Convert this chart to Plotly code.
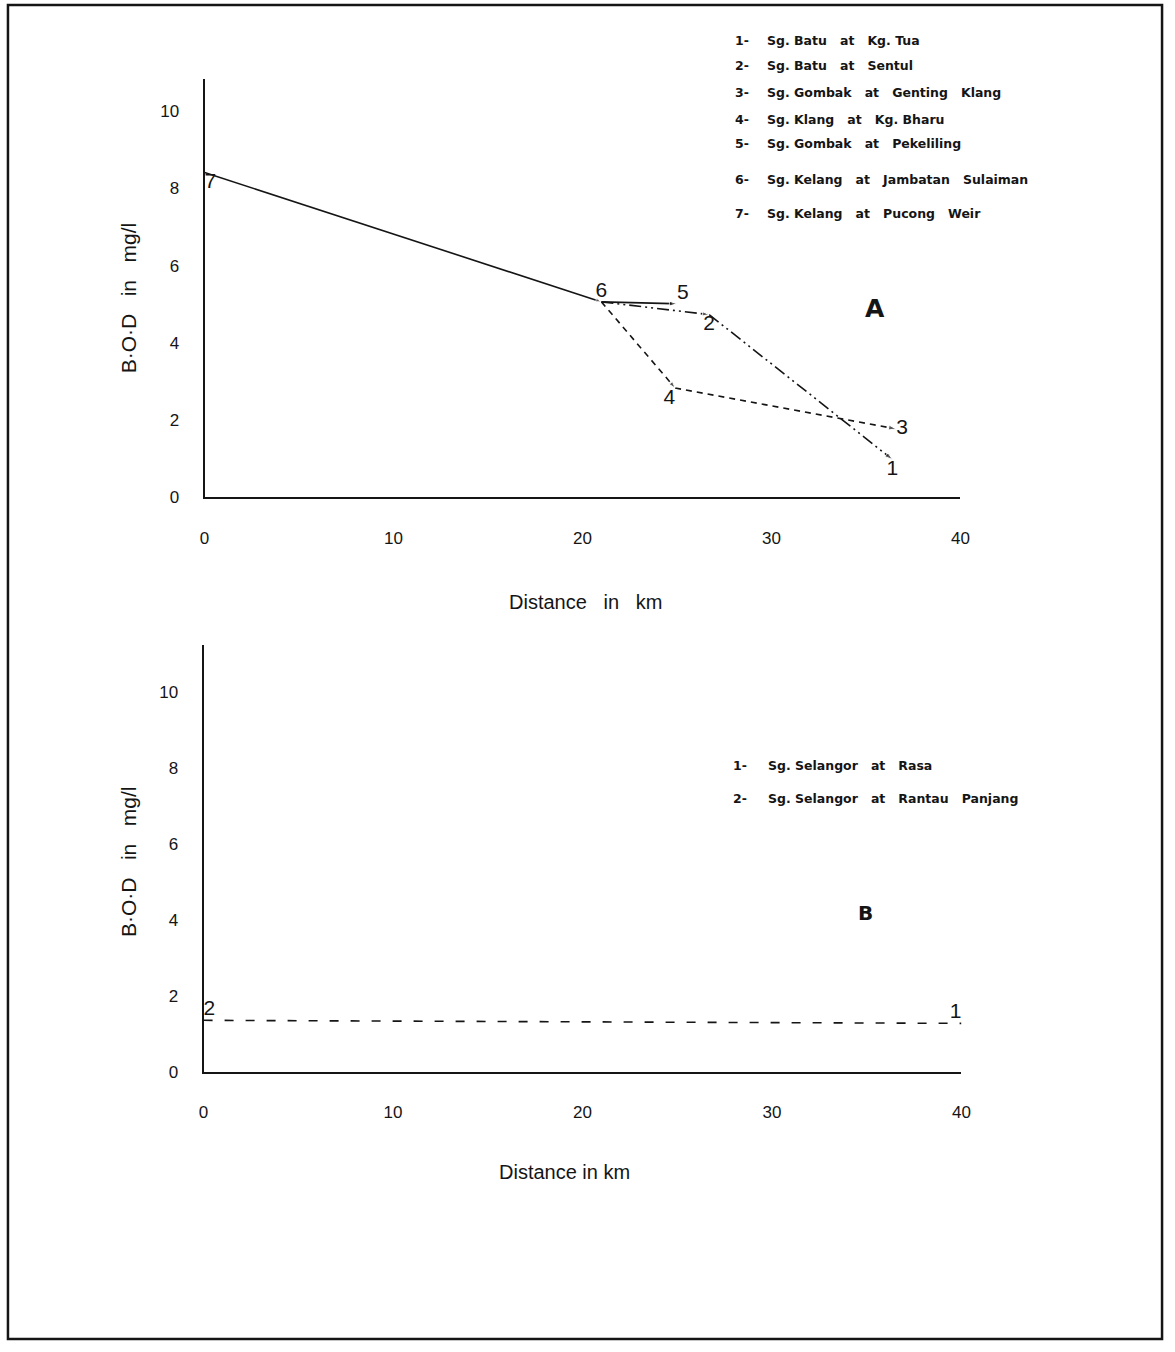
import plotly.graph_objects as go

W, H = 1175, 1352

# ---------------- Data: panel A ----------------
station_ids_a = ["1", "2", "3", "4", "5", "6", "7"]
station_names_a = [
    "Sg. Batu   at   Kg. Tua",
    "Sg. Batu   at   Sentul",
    "Sg. Gombak   at   Genting   Klang",
    "Sg. Klang   at   Kg. Bharu",
    "Sg. Gombak   at   Pekeliling",
    "Sg. Kelang   at   Jambatan   Sulaiman",
    "Sg. Kelang   at   Pucong   Weir",
]
distance_a = [36.4, 26.7, 36.6, 24.9, 25.0, 21.0, 0.0]
bod_a = [0.98, 4.73, 1.77, 2.83, 5.01, 5.06, 8.41]
route_solid = ["7", "6", "5"]
route_dashdot = ["6", "2", "1"]
route_dash = ["6", "4", "3"]

# ---------------- Data: panel B ----------------
station_ids_b = ["1", "2"]
station_names_b = [
    "Sg. Selangor   at   Rasa",
    "Sg. Selangor   at   Rantau   Panjang",
]
distance_b = [40.0, 0.0]
bod_b = [1.28, 1.36]
route_b = ["2", "1"]

x_ticks = [0, 10, 20, 30, 40]
y_ticks = [0, 2, 4, 6, 8, 10]

# ---------------- helpers ----------------
def px(x):
    return x / W

def py(y):
    return 1 - y / H

INK = "#151515"
FONT = "Liberation Sans"
NB = "\u00a0"


def route_xy(route, ids, xs, ys):
    idx = [ids.index(r) for r in route]
    return [xs[i] for i in idx], [ys[i] for i in idx]


fig = go.Figure()

# Panel A lines
line_specs = [
    (route_solid, "solid", ["square", "arrow", "arrow"], [7, 6, 8]),
    (route_dashdot, "12px,4px,2px,4px,2px,4px", ["circle", "arrow", "arrow"], [0, 7, 8]),
    (route_dash, "6px,5px", ["circle", "arrow", "arrow"], [0, 7, 8]),
]
for route, dash, symbols, sizes in line_specs:
    xs, ys = route_xy(route, station_ids_a, distance_a, bod_a)
    fig.add_trace(go.Scatter(
        x=xs, y=ys, mode="lines+markers", xaxis="x", yaxis="y",
        line=dict(color=INK, width=1.6, dash=dash),
        marker=dict(symbol=symbols, size=sizes, color=INK, angleref="previous"),
        hoverinfo="skip", showlegend=False,
    ))

# Panel A point labels
text_pos_a = ["bottom center", "bottom center", "middle right", "bottom left",
              "top right", "top center", "bottom right"]
fig.add_trace(go.Scatter(
    x=distance_a, y=bod_a, text=station_ids_a, mode="text",
    textposition=text_pos_a, xaxis="x", yaxis="y",
    textfont=dict(family=FONT, size=21, color=INK),
    cliponaxis=False, hoverinfo="skip", showlegend=False,
))

# Panel B line
xs_b, ys_b = route_xy(route_b, station_ids_b, distance_b, bod_b)
fig.add_trace(go.Scatter(
    x=xs_b, y=ys_b, mode="lines", xaxis="x2", yaxis="y2",
    line=dict(color=INK, width=1.6, dash="9px,12px"),
    hoverinfo="skip", showlegend=False,
))
fig.add_trace(go.Scatter(
    x=distance_b, y=bod_b, text=station_ids_b, mode="text",
    textposition=["top left", "top right"], xaxis="x2", yaxis="y2",
    textfont=dict(family=FONT, size=21, color=INK),
    cliponaxis=False, hoverinfo="skip", showlegend=False,
))

axis_common = dict(
    showline=True, linewidth=2, linecolor=INK, showgrid=False, zeroline=False,
    ticks="", tickfont=dict(family=FONT, size=17, color=INK), fixedrange=True,
)

fig.update_layout(
    width=W, height=H,
    margin=dict(l=0, r=0, t=0, b=0),
    paper_bgcolor="white", plot_bgcolor="white",
    xaxis=dict(domain=[px(202), px(967)], range=[0, 40], anchor="y",
               tickvals=x_ticks, ticklabelstandoff=24, **axis_common),
    yaxis=dict(domain=[py(501), py(80)], range=[0, 10.82], anchor="x",
               tickvals=y_ticks, ticklabelstandoff=20, **axis_common),
    xaxis2=dict(domain=[px(201), px(968)], range=[0, 40], anchor="y2",
                tickvals=x_ticks, ticklabelstandoff=24, **axis_common),
    yaxis2=dict(domain=[py(1080), py(650)], range=[0, 11.23], anchor="x2",
                tickvals=y_ticks, ticklabelstandoff=20, **axis_common),
)


def note(x, y, text, font, xanchor="center", angle=0):
    return dict(x=px(x), y=py(y), xref="paper", yref="paper", text=text,
                xanchor=xanchor, yanchor="middle", textangle=angle,
                showarrow=False, font=font)


ann = []
title_font = dict(family=FONT, size=21, color=INK)
# Axis titles
ytitle = "B\u00b7O\u00b7D" + NB * 3 + "in" + NB * 3 + "mg/l"
ann.append(note(125, 300, ytitle, title_font, angle=-90))
ann.append(note(125, 868, ytitle, title_font, angle=-90))
ann.append(note(588, 606, "Distance" + NB * 3 + "in" + NB * 3 + "km", dict(family=FONT, size=20, color=INK)))
ann.append(note(566, 1181, "Distance in km", dict(family=FONT, size=20, color=INK)))

# Panel letters
ann.append(note(880, 311, "<b>A</b>", dict(family="DejaVu Sans", size=25, color=INK)))
ann.append(note(871, 920, "<b>B</b>", dict(family="DejaVu Sans", size=20, color=INK)))

# Legends (keys)
legend_a_y = [41, 66, 93, 120, 145, 181, 215]
legend_b_y = [771, 804]
key_font = dict(family="DejaVu Sans", size=12.5, color=INK)
for sid, name, yy in zip(station_ids_a, station_names_a, legend_a_y):
    ann.append(note(737, yy, "<b>" + sid + "-</b>", key_font, xanchor="left"))
    ann.append(note(769, yy, "<b>" + name.replace(" ", NB) + "</b>", key_font, xanchor="left"))
for sid, name, yy in zip(station_ids_b, station_names_b, legend_b_y):
    ann.append(note(735, yy, "<b>" + sid + "-</b>", key_font, xanchor="left"))
    ann.append(note(770, yy, "<b>" + name.replace(" ", NB) + "</b>", key_font, xanchor="left"))

fig.update_layout(annotations=ann)

# Outer frame
fig.add_shape(type="rect", xref="paper", yref="paper",
              x0=px(3), x1=px(1171), y0=py(1349), y1=py(5),
              line=dict(color=INK, width=2.5))

fig.write_html("out.html")
